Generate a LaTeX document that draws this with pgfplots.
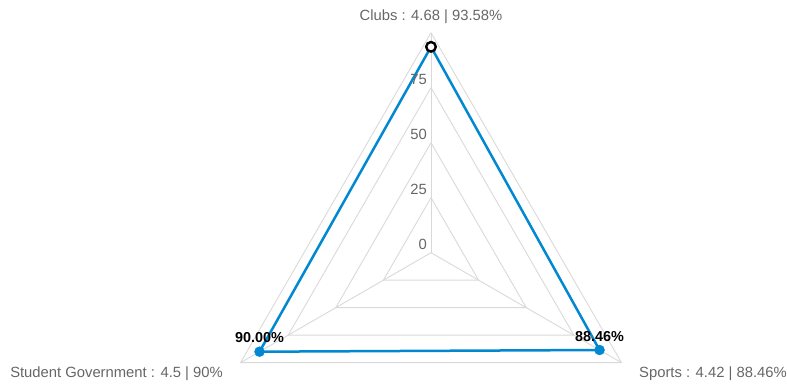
\documentclass[border=0pt]{standalone}
\usepackage{fontspec}
\setmainfont{Liberation Sans}
\usepackage{pgfplots}
\pgfplotsset{compat=1.18}
\usepgfplotslibrary{polar}
\definecolor{serblue}{RGB}{2,136,209}
\definecolor{gridgray}{RGB}{217,217,217}
\definecolor{txtgray}{RGB}{102,102,102}
\begin{document}
\begin{tikzpicture}
\begin{polaraxis}[
  scale only axis, width=440bp, height=440bp,
  xmin=0, xmax=360, ymin=0, ymax=100,
  hide axis, clip=false,
]
% grid rings
\addplot[gridgray, line width=0.9bp, forget plot] coordinates {(90,25) (210,25) (330,25) (90,25)};
\addplot[gridgray, line width=0.9bp, forget plot] coordinates {(90,50) (210,50) (330,50) (90,50)};
\addplot[gridgray, line width=0.9bp, forget plot] coordinates {(90,75) (210,75) (330,75) (90,75)};
\addplot[gridgray, line width=0.9bp, forget plot] coordinates {(90,100) (210,100) (330,100) (90,100)};
% spokes
\addplot[gridgray, line width=0.9bp, forget plot] coordinates {(90,0) (90,100)};
\addplot[gridgray, line width=0.9bp, forget plot] coordinates {(210,0) (210,100)};
\addplot[gridgray, line width=0.9bp, forget plot] coordinates {(330,0) (330,100)};
% series
\addplot[serblue, line width=2.5bp, line join=round, mark=none] coordinates {(90,93.58) (330,88.46) (210,90.00) (90,93.58)};
\addplot[only marks, mark=*, mark size=5bp, mark options={fill=serblue, draw=serblue},
  nodes near coords, point meta=explicit symbolic,
  every node near coord/.append style={anchor=base, yshift=9bp, inner sep=0pt, text=black, font=\fontsize{14.4bp}{17bp}\selectfont\bfseries}]
  coordinates {(330,88.46) [88.46\%] (210,90.00) [90.00\%]};
\addplot[only marks, mark=*, mark size=4.8bp, mark options={fill=white, draw=black, line width=2.4bp}] coordinates {(90,93.58)};
% tick labels
\node[anchor=base east, inner sep=0pt, xshift=-4bp, yshift=3bp, text=txtgray, font=\fontsize{14.8bp}{17bp}\selectfont] at (axis cs:90,0) {0};
\node[anchor=base east, inner sep=0pt, xshift=-4bp, yshift=3bp, text=txtgray, font=\fontsize{14.8bp}{17bp}\selectfont] at (axis cs:90,25) {25};
\node[anchor=base east, inner sep=0pt, xshift=-4bp, yshift=3bp, text=txtgray, font=\fontsize{14.8bp}{17bp}\selectfont] at (axis cs:90,50) {50};
\node[anchor=base east, inner sep=0pt, xshift=-4bp, yshift=3bp, text=txtgray, font=\fontsize{14.8bp}{17bp}\selectfont] at (axis cs:90,75) {75};
\coordinate (C) at (axis cs:0,0);
\end{polaraxis}
\begin{scope}[every node/.style={inner sep=0pt, text=txtgray, font=\fontsize{14.8bp}{17bp}\selectfont}]
\node[anchor=base] at ([shift={(0bp,232bp)}]C) {Clubs : 4.68 | 93.58\%};
\node[anchor=base west] at ([shift={(208bp,-125.3bp)}]C) {Sports : 4.42 | 88.46\%};
\node[anchor=base east] at ([shift={(-208bp,-125.3bp)}]C) {Student Government : 4.5 | 90\%};
\end{scope}
\pgfresetboundingbox
\path[use as bounding box] ([shift={(-431bp,-132.3bp)}]C) rectangle ([shift={(356bp,252.7bp)}]C);
\end{tikzpicture}
\end{document}
